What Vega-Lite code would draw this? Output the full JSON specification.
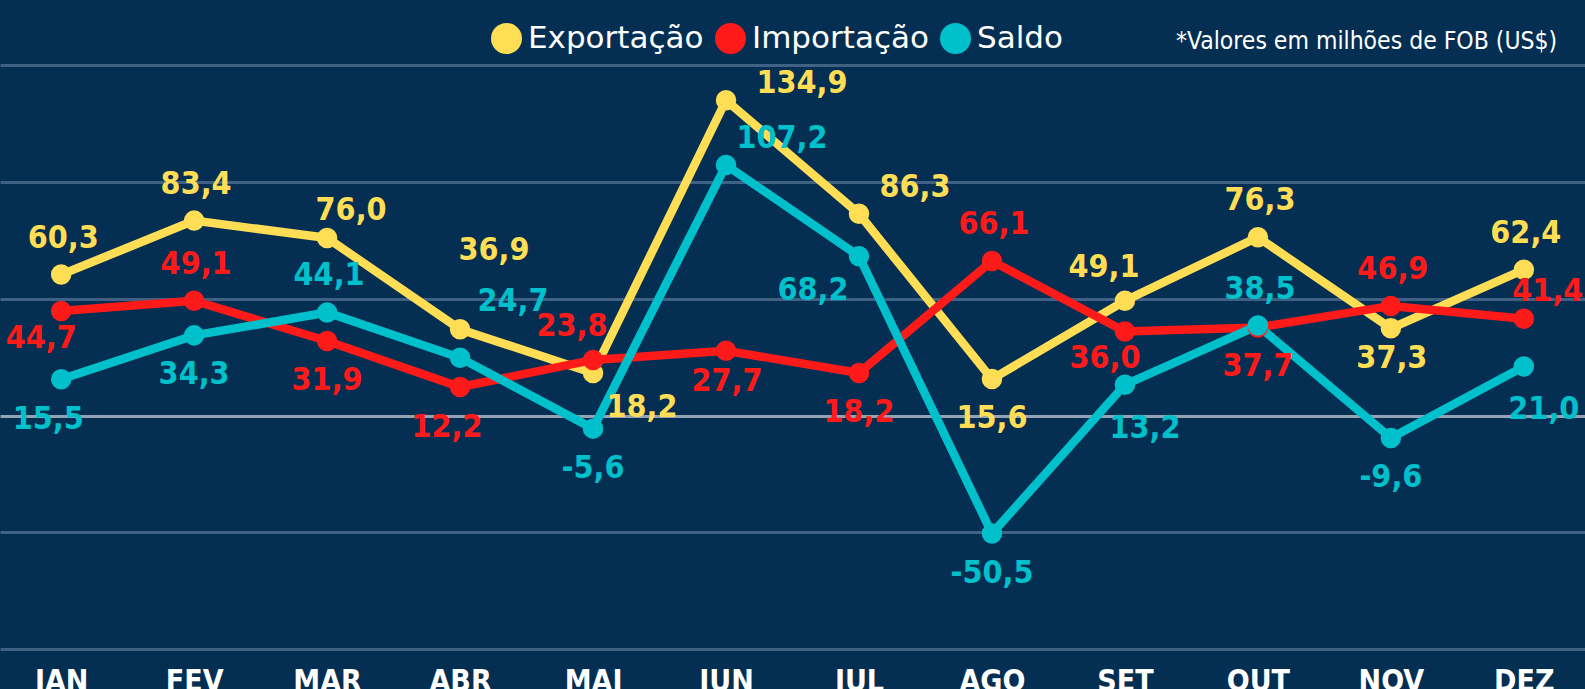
{
  "$schema": "https://vega.github.io/schema/vega-lite/v6.json",
  "width": 1585,
  "height": 660,
  "autosize": {"type": "none"},
  "padding": {"left": 0, "top": 0, "right": 0, "bottom": 29},
  "background": "#042F52",
  "config": {
    "view": {"stroke": null},
    "locale": {"number": {"decimal": ",", "thousands": ".", "grouping": [3], "currency": ["US$", ""], "minus": "-"}},
    "font": "DejaVu Sans Condensed"
  },
  "data": {
    "values": [
      {"mes": "JAN", "serie": "Exportação", "valor": 60.3, "pos": "acima"},
      {"mes": "FEV", "serie": "Exportação", "valor": 83.4, "pos": "acima"},
      {"mes": "MAR", "serie": "Exportação", "valor": 76.0, "pos": "acima_direita"},
      {"mes": "ABR", "serie": "Exportação", "valor": 36.9, "pos": "acima_direita_alto"},
      {"mes": "MAI", "serie": "Exportação", "valor": 18.2, "pos": "direita_abaixo"},
      {"mes": "JUN", "serie": "Exportação", "valor": 134.9, "pos": "direita"},
      {"mes": "JUL", "serie": "Exportação", "valor": 86.3, "pos": "direita_acima"},
      {"mes": "AGO", "serie": "Exportação", "valor": 15.6, "pos": "abaixo"},
      {"mes": "SET", "serie": "Exportação", "valor": 49.1, "pos": "acima_esquerda"},
      {"mes": "OUT", "serie": "Exportação", "valor": 76.3, "pos": "acima"},
      {"mes": "NOV", "serie": "Exportação", "valor": 37.3, "pos": "abaixo_perto"},
      {"mes": "DEZ", "serie": "Exportação", "valor": 62.4, "pos": "acima"},
      {"mes": "JAN", "serie": "Importação", "valor": 44.7, "pos": "abaixo_esquerda_perto"},
      {"mes": "FEV", "serie": "Importação", "valor": 49.1, "pos": "acima"},
      {"mes": "MAR", "serie": "Importação", "valor": 31.9, "pos": "abaixo"},
      {"mes": "ABR", "serie": "Importação", "valor": 12.2, "pos": "abaixo_esquerda"},
      {"mes": "MAI", "serie": "Importação", "valor": 23.8, "pos": "acima_esquerda"},
      {"mes": "JUN", "serie": "Importação", "valor": 27.7, "pos": "abaixo_perto"},
      {"mes": "JUL", "serie": "Importação", "valor": 18.2, "pos": "abaixo"},
      {"mes": "AGO", "serie": "Importação", "valor": 66.1, "pos": "acima"},
      {"mes": "SET", "serie": "Importação", "valor": 36.0, "pos": "abaixo_esquerda_perto"},
      {"mes": "OUT", "serie": "Importação", "valor": 37.7, "pos": "abaixo"},
      {"mes": "NOV", "serie": "Importação", "valor": 46.9, "pos": "acima"},
      {"mes": "DEZ", "serie": "Importação", "valor": 41.4, "pos": "acima_direita"},
      {"mes": "JAN", "serie": "Saldo", "valor": 15.5, "pos": "abaixo_esquerda"},
      {"mes": "FEV", "serie": "Saldo", "valor": 34.3, "pos": "abaixo"},
      {"mes": "MAR", "serie": "Saldo", "valor": 44.1, "pos": "acima"},
      {"mes": "ABR", "serie": "Saldo", "valor": 24.7, "pos": "acima_direita_longe"},
      {"mes": "MAI", "serie": "Saldo", "valor": -5.6, "pos": "abaixo"},
      {"mes": "JUN", "serie": "Saldo", "valor": 107.2, "pos": "direita_acima"},
      {"mes": "JUL", "serie": "Saldo", "valor": 68.2, "pos": "esquerda_abaixo"},
      {"mes": "AGO", "serie": "Saldo", "valor": -50.5, "pos": "abaixo"},
      {"mes": "SET", "serie": "Saldo", "valor": 13.2, "pos": "abaixo_direita"},
      {"mes": "OUT", "serie": "Saldo", "valor": 38.5, "pos": "acima"},
      {"mes": "NOV", "serie": "Saldo", "valor": -9.6, "pos": "abaixo"},
      {"mes": "DEZ", "serie": "Saldo", "valor": 21.0, "pos": "abaixo_direita"}
    ]
  },
  "encoding": {
    "x": {
      "field": "mes", "type": "ordinal",
      "sort": ["JAN", "FEV", "MAR", "ABR", "MAI", "JUN", "JUL", "AGO", "SET", "OUT", "NOV", "DEZ"],
      "scale": {"type": "point", "padding": 0.46},
      "axis": {
        "title": null, "orient": "bottom", "labelAngle": 0, "domain": false, "ticks": false, "tickSize": 0,
        "grid": false, "labelFontSize": 30, "labelFontWeight": "bold", "labelColor": "#FFFFFF",
        "labelFont": "DejaVu Sans Condensed", "labelPadding": 6, "labelBaseline": "top"
      }
    },
    "y": {
      "field": "valor", "type": "quantitative",
      "scale": {"domain": [-104.6, 177.8], "nice": false, "zero": false},
      "axis": {
        "title": null, "labels": false, "ticks": false, "domain": false, "grid": true,
        "values": [-100, -50, 0, 50, 100, 150],
        "gridWidth": 3, "gridOpacity": 1,
        "gridColor": {"condition": {"test": "datum.value === 0", "value": "#93A3B3"}, "value": "#3E6184"}
      }
    }
  },
  "layer": [
    {
      "mark": {"type": "line", "strokeWidth": 8.5, "point": {"size": 420, "filled": true, "opacity": 1}},
      "encoding": {
        "color": {
          "field": "serie", "type": "nominal",
          "scale": {"domain": ["Exportação", "Importação", "Saldo"], "range": ["#FFDD55", "#FF1A1A", "#00C1CB"]},
          "legend": {
            "orient": "none", "legendX": 491, "legendY": 23, "direction": "horizontal",
            "title": "*Valores em milhões de FOB (US$)", "titleOrient": "right", "titlePadding": 113,
            "titleFontSize": 24.5, "titleFontWeight": "normal", "titleColor": "#FFFFFF", "titleLimit": 600,
            "titleFont": "DejaVu Sans Condensed", "titleAnchor": "end", "titleBaseline": "bottom",
            "symbolType": "circle", "symbolSize": 961, "symbolStrokeWidth": 0, "symbolOpacity": 1,
            "labelFontSize": 31, "labelColor": "#FFFFFF", "labelFont": "DejaVu Sans",
            "labelOffset": 6, "labelLimit": 400, "columnPadding": 11
          }
        }
      }
    },
    {"transform": [{"filter": "datum.pos === 'acima'"}],
     "mark": {"type": "text", "fontSize": 32, "fontWeight": "bold", "dx": 2, "dy": -37},
     "encoding": {"text": {"field": "valor", "type": "quantitative", "format": ".1f"}, "color": {"field": "serie", "type": "nominal", "legend": null}}},
    {"transform": [{"filter": "datum.pos === 'abaixo'"}],
     "mark": {"type": "text", "fontSize": 32, "fontWeight": "bold", "dx": 0, "dy": 39},
     "encoding": {"text": {"field": "valor", "type": "quantitative", "format": ".1f"}, "color": {"field": "serie", "type": "nominal", "legend": null}}},
    {"transform": [{"filter": "datum.pos === 'abaixo_perto'"}],
     "mark": {"type": "text", "fontSize": 32, "fontWeight": "bold", "dx": 1, "dy": 30},
     "encoding": {"text": {"field": "valor", "type": "quantitative", "format": ".1f"}, "color": {"field": "serie", "type": "nominal", "legend": null}}},
    {"transform": [{"filter": "datum.pos === 'acima_esquerda'"}],
     "mark": {"type": "text", "fontSize": 32, "fontWeight": "bold", "dx": -21, "dy": -34},
     "encoding": {"text": {"field": "valor", "type": "quantitative", "format": ".1f"}, "color": {"field": "serie", "type": "nominal", "legend": null}}},
    {"transform": [{"filter": "datum.pos === 'acima_direita'"}],
     "mark": {"type": "text", "fontSize": 32, "fontWeight": "bold", "dx": 24, "dy": -28},
     "encoding": {"text": {"field": "valor", "type": "quantitative", "format": ".1f"}, "color": {"field": "serie", "type": "nominal", "legend": null}}},
    {"transform": [{"filter": "datum.pos === 'abaixo_esquerda'"}],
     "mark": {"type": "text", "fontSize": 32, "fontWeight": "bold", "dx": -13, "dy": 40},
     "encoding": {"text": {"field": "valor", "type": "quantitative", "format": ".1f"}, "color": {"field": "serie", "type": "nominal", "legend": null}}},
    {"transform": [{"filter": "datum.pos === 'abaixo_esquerda_perto'"}],
     "mark": {"type": "text", "fontSize": 32, "fontWeight": "bold", "dx": -20, "dy": 27},
     "encoding": {"text": {"field": "valor", "type": "quantitative", "format": ".1f"}, "color": {"field": "serie", "type": "nominal", "legend": null}}},
    {"transform": [{"filter": "datum.pos === 'abaixo_direita'"}],
     "mark": {"type": "text", "fontSize": 32, "fontWeight": "bold", "dx": 20, "dy": 43},
     "encoding": {"text": {"field": "valor", "type": "quantitative", "format": ".1f"}, "color": {"field": "serie", "type": "nominal", "legend": null}}},
    {"transform": [{"filter": "datum.pos === 'direita'"}],
     "mark": {"type": "text", "fontSize": 32, "fontWeight": "bold", "dx": 76, "dy": -17},
     "encoding": {"text": {"field": "valor", "type": "quantitative", "format": ".1f"}, "color": {"field": "serie", "type": "nominal", "legend": null}}},
    {"transform": [{"filter": "datum.pos === 'direita_acima'"}],
     "mark": {"type": "text", "fontSize": 32, "fontWeight": "bold", "dx": 56, "dy": -27},
     "encoding": {"text": {"field": "valor", "type": "quantitative", "format": ".1f"}, "color": {"field": "serie", "type": "nominal", "legend": null}}},
    {"transform": [{"filter": "datum.pos === 'direita_abaixo'"}],
     "mark": {"type": "text", "fontSize": 32, "fontWeight": "bold", "dx": 49, "dy": 34},
     "encoding": {"text": {"field": "valor", "type": "quantitative", "format": ".1f"}, "color": {"field": "serie", "type": "nominal", "legend": null}}},
    {"transform": [{"filter": "datum.pos === 'esquerda_abaixo'"}],
     "mark": {"type": "text", "fontSize": 32, "fontWeight": "bold", "dx": -46, "dy": 34},
     "encoding": {"text": {"field": "valor", "type": "quantitative", "format": ".1f"}, "color": {"field": "serie", "type": "nominal", "legend": null}}},
    {"transform": [{"filter": "datum.pos === 'acima_direita_alto'"}],
     "mark": {"type": "text", "fontSize": 32, "fontWeight": "bold", "dx": 34, "dy": -79},
     "encoding": {"text": {"field": "valor", "type": "quantitative", "format": ".1f"}, "color": {"field": "serie", "type": "nominal", "legend": null}}},
    {"transform": [{"filter": "datum.pos === 'acima_direita_longe'"}],
     "mark": {"type": "text", "fontSize": 32, "fontWeight": "bold", "dx": 53, "dy": -57},
     "encoding": {"text": {"field": "valor", "type": "quantitative", "format": ".1f"}, "color": {"field": "serie", "type": "nominal", "legend": null}}}
  ]
}
